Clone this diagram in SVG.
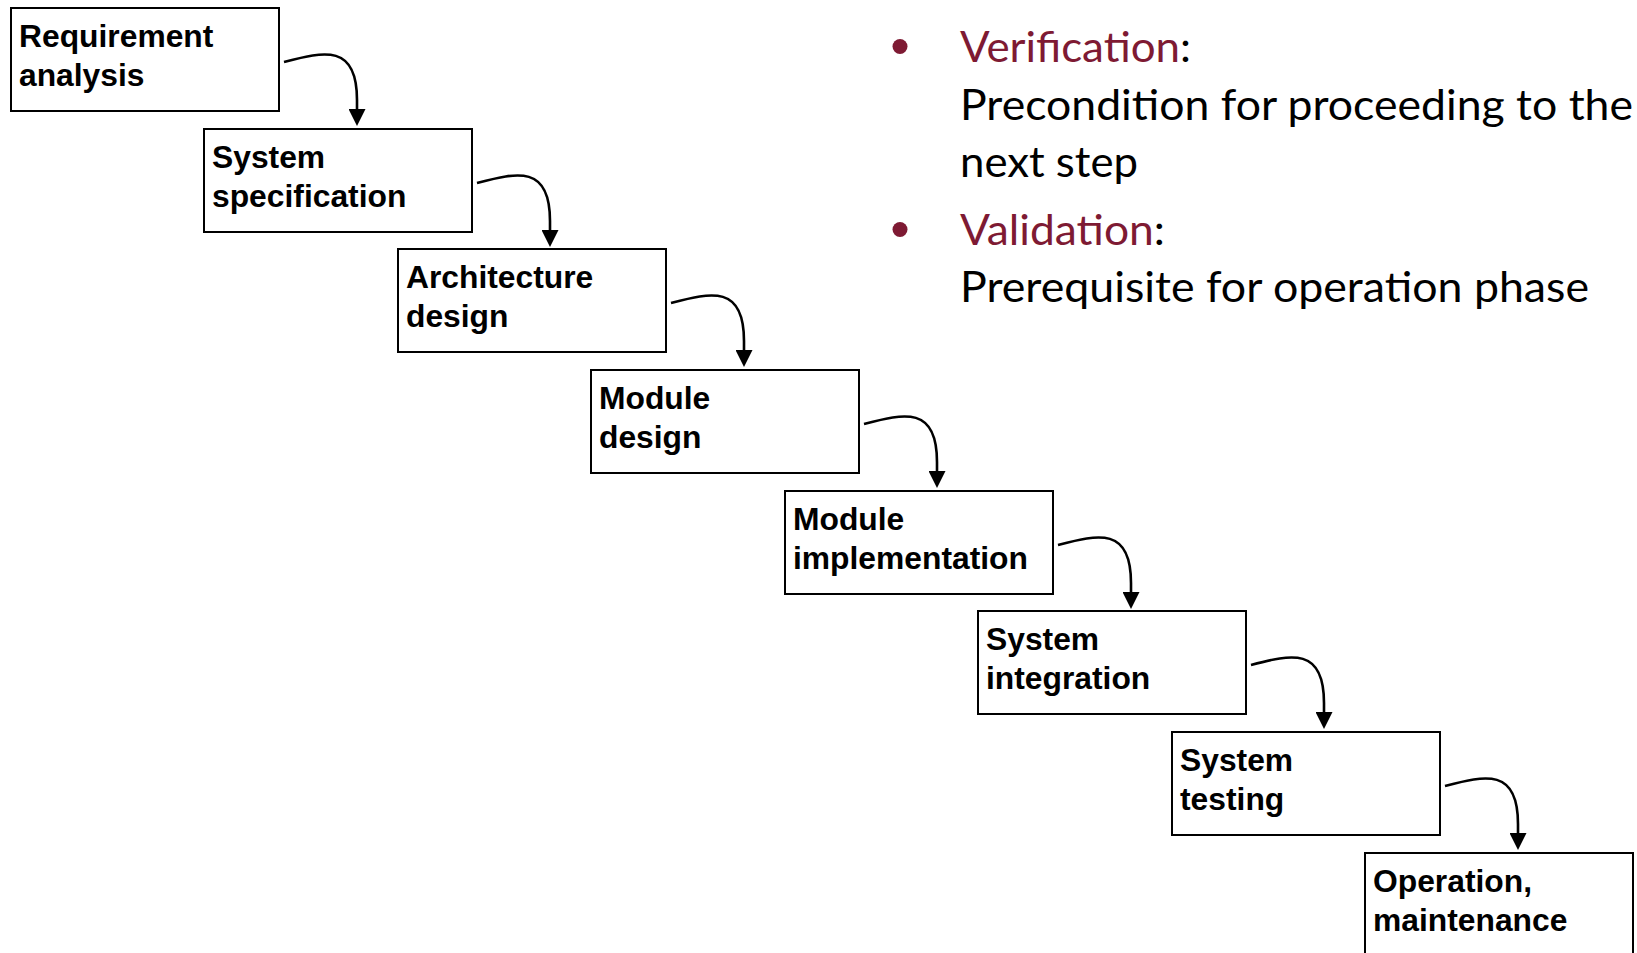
<svg xmlns="http://www.w3.org/2000/svg" width="1637" height="953" viewBox="0 0 1637 953">
  <style>
    .box { fill: #ffffff; stroke: #000000; stroke-width: 2; }
    .lbl { font-family: "Liberation Sans", Arial, sans-serif; font-weight: bold; font-size: 31.8px; fill: #000000; }
    .flow { fill: none; stroke: #000000; stroke-width: 2.6; }
    .note { font-family: Lato, "Open Sans", sans-serif; font-size: 43px; fill: #000000; }
    .key { fill: #7e1a33; }
  </style>
  <defs>
    <marker id="head" viewBox="0 0 17 17" refX="0" refY="8.5" markerUnits="userSpaceOnUse" markerWidth="17" markerHeight="17" orient="auto">
      <path d="M0,0 L17,8.5 L0,17 z" fill="#000000"/>
    </marker>
  </defs>
  <rect width="1637" height="953" fill="#ffffff"/>

  <!-- waterfall phases -->
  <g id="requirement-analysis">
    <rect class="box" x="11" y="8" width="268" height="103"/>
    <text class="lbl" x="19" y="46.5">Requirement</text>
    <text class="lbl" x="19" y="86">analysis</text>
  </g>
  <g id="system-specification">
    <rect class="box" x="204" y="129" width="268" height="103"/>
    <text class="lbl" x="212" y="167.5">System</text>
    <text class="lbl" x="212" y="207">specification</text>
  </g>
  <g id="architecture-design">
    <rect class="box" x="398" y="249" width="268" height="103"/>
    <text class="lbl" x="406" y="287.5">Architecture</text>
    <text class="lbl" x="406" y="327">design</text>
  </g>
  <g id="module-design">
    <rect class="box" x="591" y="370" width="268" height="103"/>
    <text class="lbl" x="599" y="408.5">Module</text>
    <text class="lbl" x="599" y="448">design</text>
  </g>
  <g id="module-implementation">
    <rect class="box" x="785" y="491" width="268" height="103"/>
    <text class="lbl" x="793" y="529.5">Module</text>
    <text class="lbl" x="793" y="569">implementation</text>
  </g>
  <g id="system-integration">
    <rect class="box" x="978" y="611" width="268" height="103"/>
    <text class="lbl" x="986" y="649.5">System</text>
    <text class="lbl" x="986" y="689">integration</text>
  </g>
  <g id="system-testing">
    <rect class="box" x="1172" y="732" width="268" height="103"/>
    <text class="lbl" x="1180" y="770.5">System</text>
    <text class="lbl" x="1180" y="810">testing</text>
  </g>
  <g id="operation-maintenance">
    <rect class="box" x="1365" y="853" width="268" height="103"/>
    <text class="lbl" x="1373" y="891.5">Operation,</text>
    <text class="lbl" x="1373" y="931">maintenance</text>
  </g>

  <!-- hand-off arrows between phases -->
  <g id="connectors">
    <path class="flow" marker-end="url(#head)" d="M284,62 C325,51 357,44 357,100 L357,109"/>
    <path class="flow" marker-end="url(#head)" d="M477,183 C518,172 550,165 550,221 L550,230"/>
    <path class="flow" marker-end="url(#head)" d="M671,303 C712,292 744,285 744,341 L744,350"/>
    <path class="flow" marker-end="url(#head)" d="M864,424 C905,413 937,406 937,462 L937,471"/>
    <path class="flow" marker-end="url(#head)" d="M1058,545 C1099,534 1131,527 1131,583 L1131,592"/>
    <path class="flow" marker-end="url(#head)" d="M1251,665 C1292,654 1324,647 1324,703 L1324,712"/>
    <path class="flow" marker-end="url(#head)" d="M1445,786 C1486,775 1518,768 1518,824 L1518,833"/>
  </g>

  <!-- notes -->
  <g id="notes">
    <circle class="key" cx="900" cy="46.5" r="7.5"/>
    <text class="note" x="960" y="62" textLength="231" lengthAdjust="spacingAndGlyphs"><tspan class="key">Verification</tspan>:</text>
    <text class="note" x="960" y="119.5" textLength="673" lengthAdjust="spacingAndGlyphs">Precondition for proceeding to the</text>
    <text class="note" x="960" y="177" textLength="178" lengthAdjust="spacingAndGlyphs">next step</text>
    <circle class="key" cx="900" cy="229.5" r="7.5"/>
    <text class="note" x="960" y="244.5" textLength="205" lengthAdjust="spacingAndGlyphs"><tspan class="key">Validation</tspan>:</text>
    <text class="note" x="960" y="302" textLength="629" lengthAdjust="spacingAndGlyphs">Prerequisite for operation phase</text>
  </g>
</svg>
